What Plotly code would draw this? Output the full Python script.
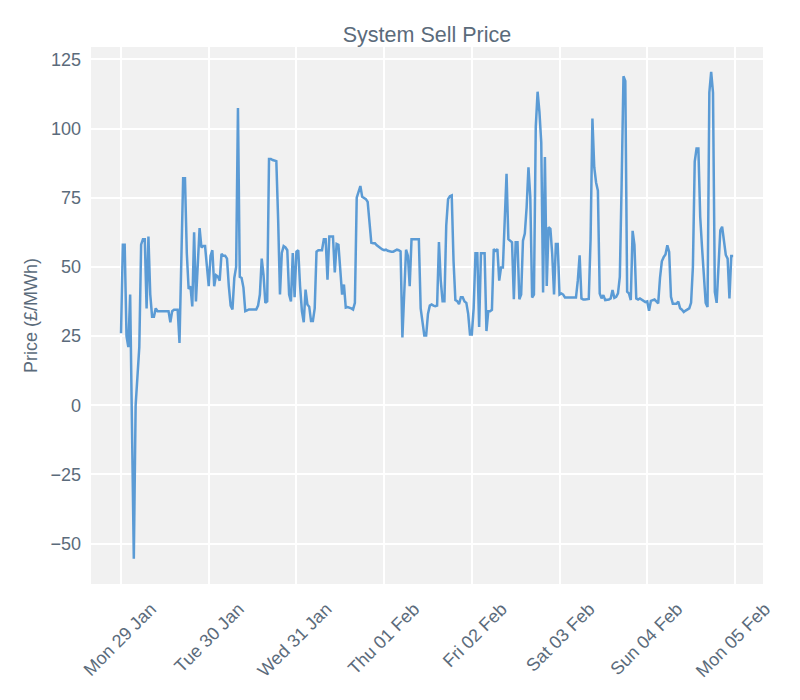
import pandas as pd
import plotly.graph_objects as go

# Half-hourly System Sell Price (GBP/MWh), Mon 29 Jan 00:00 to Sun 04 Feb 23:30
mon_29 = [26, 58, 58, 25, 21, 40, -8, -55.5, 0, 10, 21, 58, 60, 60, 35, 61,
          40, 32, 32, 35, 34, 34, 34, 34, 34, 34, 34, 30, 34, 34.5, 34.5, 34.5,
          22.5, 52, 82, 82, 55, 42, 43, 35.7, 62.5, 37.5, 52, 64, 57, 57.5, 57.5, 50]
tue_30 = [43, 54, 56, 43, 47, 46.5, 45, 54.7, 54, 54, 53, 43, 36, 34.6, 46, 50,
          107.4, 46.4, 46, 42.5, 34, 34.3, 34.6, 34.6, 34.6, 34.6, 34.6, 36, 40, 53, 47, 37,
          37.5, 89, 89, 88.6, 88.5, 88.2, 67, 40, 55, 57.5, 57, 56, 40, 37.5, 55, 39]
wed_31 = [55.5, 56, 43, 34, 30, 41.8, 36.4, 35.6, 30.4, 30.4, 35, 55.5, 56, 56, 56, 60,
          60, 45.4, 61, 61, 61, 48, 58.3, 58, 48.4, 40, 43.6, 35.3, 35.5, 35.3, 35, 34.6,
          37, 75, 77, 79.2, 75.3, 75, 74.5, 73.5, 66, 58.7, 58.5, 58.5, 57.8, 57.3, 56.5, 56.3]
thu_01 = [56, 56.2, 55.8, 55.6, 55.5, 55.5, 55.8, 56.2, 56, 55.6, 24.5, 42, 56.2, 54, 43, 60,
          60, 60, 60, 60, 35, 30, 25.2, 25.2, 33, 36, 36.4, 36, 35.8, 36, 59, 45,
          37.6, 37.6, 65, 74.5, 75.5, 75.8, 52, 38, 37.6, 36.5, 39, 39, 37.5, 37, 33, 25.6]
fri_02 = [25.6, 35, 54.9, 54.9, 28.3, 54.9, 54.9, 54.9, 26.8, 34, 34, 34.5, 56.4, 55.8, 56.4, 45,
          49.8, 49.8, 66.7, 83.6, 60, 59.3, 58.9, 38.3, 58.9, 58.9, 38.3, 40, 59.5, 62, 71.6, 86,
          75.2, 38.9, 40, 100.6, 113.3, 106, 95, 40.7, 89.7, 43.1, 64.3, 63.7, 54.6, 40, 58.3, 58.3]
sat_03 = [40, 40.4, 40, 38.9, 38.9, 38.9, 38.9, 38.9, 38.9, 38.9, 45, 54.2, 38.6, 38.2, 38.2, 38.2,
          38.4, 60, 103.6, 86, 80.5, 77.5, 40.4, 38.6, 39.8, 38, 38, 38.2, 38.6, 41.6, 38.8, 39.2,
          40.4, 46.4, 80, 118.9, 117.2, 41, 40.4, 38, 63, 58, 38.6, 38.2, 38.6, 38.2, 38, 37.3]
sun_04 = [37.5, 34.1, 37.7, 38, 38.2, 37.5, 36.8, 46, 52, 53.5, 54.5, 57.8, 55.4, 39.2, 36.7, 36.7,
          36.7, 37.5, 35, 34.5, 33.7, 34.2, 34.6, 35, 37, 50, 88, 92.8, 92.8, 68, 57, 46,
          37, 35.5, 113, 120.5, 113, 41, 37, 50, 63.2, 64.5, 59, 54.3, 53, 38.6, 53.9, 53.9]

prices = mon_29 + tue_30 + wed_31 + thu_01 + fri_02 + sat_03 + sun_04
times = pd.date_range("2018-01-29 00:00", periods=len(prices), freq="30min")

tick_dates = pd.date_range("2018-01-29", "2018-02-05", freq="D")
tick_labels = [d.strftime("%a %d %b") for d in tick_dates]
y_ticks = [-50, -25, 0, 25, 50, 75, 100, 125]

TEXT = "#5b6b7b"
FONT = "Liberation Sans, Arial, sans-serif"

fig = go.Figure()
fig.add_trace(go.Scatter(
    x=times, y=prices, mode="lines",
    line=dict(color="#5b9bd5", width=2.5),
    showlegend=False,
))

fig.update_layout(
    width=800, height=700,
    margin=dict(l=83, r=45, t=39, b=124, autoexpand=False),
    paper_bgcolor="white",
    plot_bgcolor="#f1f1f1",
    font=dict(family=FONT, color=TEXT, size=18),
    title=dict(text="System Sell Price", x=0.5, xref="paper", y=1 - 26 / 700,
               yref="container", yanchor="middle", xanchor="center",
               font=dict(size=21.5, color=TEXT, family=FONT)),
)
fig.update_xaxes(
    range=["2018-01-28 15:47", "2018-02-05 07:41"],
    tickmode="array", tickvals=tick_dates, ticktext=tick_labels,
    tickangle=-45, showgrid=True, gridcolor="white", gridwidth=2,
    zeroline=False, showline=False, ticks="",
    ticklabelstandoff=10, ticklabelshift=30,
    tickfont=dict(size=18, color=TEXT, family=FONT),
)
fig.update_yaxes(
    range=[-64.6, 129.45],
    tickmode="array", tickvals=y_ticks,
    ticktext=[("\u2212" + str(-v)) if v < 0 else str(v) for v in y_ticks],
    showgrid=True, gridcolor="white", gridwidth=2,
    zeroline=False, showline=False, ticks="",
    ticklabelstandoff=9,
    tickfont=dict(size=18, color=TEXT, family=FONT),
    title=dict(text="Price (£/MWh)", font=dict(size=18, color=TEXT, family=FONT), standoff=8),
)

fig.write_html("out.html")
